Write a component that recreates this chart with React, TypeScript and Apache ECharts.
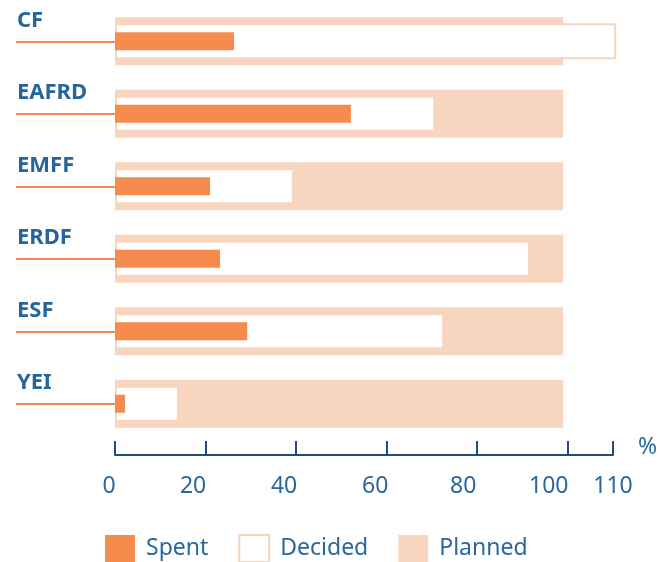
import React, { useEffect, useRef } from "react";
import * as echarts from "echarts";

const categories = ["CF", "EAFRD", "EMFF", "ERDF", "ESF", "YEI"];
const spent = [26.3, 52.1, 21.0, 23.2, 29.2, 2.2];
const decided = [110.7, 70.7, 39.5, 91.7, 72.7, 14.1];
const planned = [99, 99, 99, 99, 99, 99];
const legendNames = ["Spent", "Decided", "Planned"];

const ORANGE = "#f58b4c";
const PEACH = "#f7d5be";
const BLUE = "#2a67a0";
const NAVY = "#1f4c85";
const FONT = "Noto Sans";

// label horizontal nudges (px of right padding) per tick value
const labelPad: Record<number, number> = { 0: 12, 20: 25, 40: 24, 60: 23, 80: 28, 100: 38, 110: 0 };

export default function App() {
  const ref = useRef<HTMLDivElement>(null);
  useEffect(() => {
    if (!ref.current) return;
    const chart = echarts.init(ref.current, null, { renderer: "svg" });
    const rich: Record<string, any> = {};
    Object.keys(labelPad).forEach((k) => {
      rich["p" + k] = {
        fontFamily: FONT,
        fontSize: 23,
        color: BLUE,
        padding: [0, labelPad[Number(k)], 0, 0],
      };
    });
    const hiddenY = () => ({
      type: "category",
      data: categories,
      inverse: true,
      show: false,
      gridIndex: 0,
    });
    chart.setOption({
      animation: false,
      grid: { left: 115, top: 5, width: 498, height: 435, containLabel: false },
      legend: {
        data: legendNames.map((n) => ({ name: n, icon: "rect" })),
        left: 100,
        top: 529,
        itemWidth: 30,
        itemHeight: 27,
        itemGap: 30,
        formatter: (n: string) => `{t|${n}}`,
        textStyle: {
          fontFamily: FONT,
          fontSize: 23,
          color: BLUE,
          rich: {
            t: {
              fontFamily: FONT,
              fontSize: 23,
              color: BLUE,
              lineHeight: 22,
              padding: [0, 0, 5, 6],
            },
          },
        },
      },
      xAxis: {
        type: "value",
        min: 0,
        max: 110,
        interval: 20,
        offset: 15,
        name: "{a|%}",
        nameLocation: "end",
        nameGap: 25,
        nameTextStyle: {
          fontFamily: FONT,
          fontSize: 23,
          color: BLUE,
          rich: {
            a: { fontFamily: FONT, fontSize: 23, color: BLUE, padding: [0, 0, 20, 0] },
          },
        },
        splitLine: { show: false },
        axisLine: { show: true, lineStyle: { color: NAVY, width: 2 } },
        axisTick: { show: true, inside: true, length: 14, lineStyle: { color: NAVY, width: 2 } },
        axisLabel: {
          margin: 17,
          fontFamily: FONT,
          fontSize: 23,
          color: BLUE,
          formatter: (v: number) => `{p${v}|${v}}`,
          rich,
        },
      },
      yAxis: [
        {
          type: "category",
          data: categories,
          inverse: true,
          axisLine: { show: false },
          axisTick: {
            show: true,
            alignWithLabel: true,
            length: 99,
            lineStyle: { color: "#f08a4e", width: 2 },
          },
          axisLabel: {
            align: "left",
            margin: 98,
            verticalAlign: "middle",
            formatter: (v: string) => `{c|${v}}`,
            rich: {
              c: {
                fontFamily: FONT,
                fontWeight: "bold",
                fontSize: 22,
                color: "#25659d",
                padding: [0, 0, 47, 0],
              },
            },
          },
        },
        hiddenY(),
        hiddenY(),
      ],
      series: [
        {
          name: "Planned",
          type: "bar",
          yAxisIndex: 0,
          data: planned,
          barWidth: 48,
          itemStyle: { color: PEACH },
          z: 2,
        },
        {
          name: "Decided",
          type: "bar",
          yAxisIndex: 1,
          data: decided,
          barWidth: 36,
          clip: false,
          itemStyle: { color: "#ffffff", borderColor: PEACH, borderWidth: 2 },
          z: 3,
        },
        {
          name: "Spent",
          type: "bar",
          yAxisIndex: 2,
          data: spent,
          barWidth: 18,
          itemStyle: { color: ORANGE },
          z: 4,
        },
      ],
    });
    return () => chart.dispose();
  }, []);
  return (
    <div
      ref={ref}
      style={{ position: "fixed", left: 0, top: 0, width: 670, height: 562 }}
    />
  );
}
